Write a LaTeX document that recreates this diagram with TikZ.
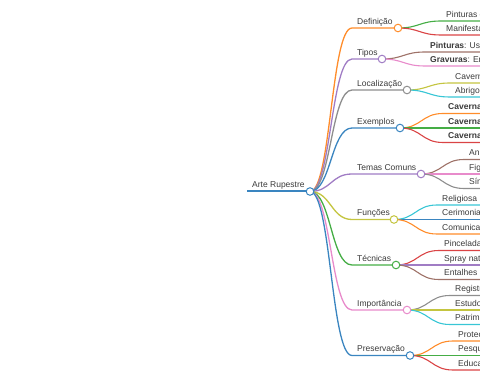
\documentclass[tikz,border=0pt]{standalone}
\usepackage{fontspec}
\setmainfont{Liberation Sans}
\pgfdeclarelayer{bg}
\pgfsetlayers{bg,main}
\definecolor{cBlue}{HTML}{3A85C0}
\definecolor{cOrange}{HTML}{FF8C2A}
\definecolor{cGreen}{HTML}{45AD45}
\definecolor{cRed}{HTML}{DA4445}
\definecolor{cPurple}{HTML}{A07CC4}
\definecolor{cBrown}{HTML}{9E7268}
\definecolor{cPink}{HTML}{E88BCB}
\definecolor{cGray}{HTML}{8E8E8E}
\definecolor{cOlive}{HTML}{C4C540}
\definecolor{cCyan}{HTML}{38C6D5}
\definecolor{txt}{HTML}{3A3A3A}
\tikzset{
  lbl/.style={anchor=base west, inner sep=0pt, font=\fontsize{8.5}{10}\selectfont, text=txt},
  dot/.style={circle, draw=#1, fill=white, line width=1pt, minimum size=7.6pt, inner sep=0pt},
  lnkroot/.style={draw=#1, line width=2pt},
  lnkone/.style={draw=#1, line width=1.3pt},
  lnktwo/.style={draw=#1, line width=1.1pt},
}
% level-1 branch: name, colour, line y, circle x, label
\newcommand\Lone[5]{%
  \coordinate (#1-s) at (352,#3);
  \node[dot=#2] (#1) at (#4,#3) {};
  \node[lbl] (#1-t) at (357,#3-3.6) {#5};
  \begin{pgfonlayer}{bg}
    \draw[lnkone=#2] (root.center) .. controls (331,191.5) and (331,#3) .. (#1-s) -- (#1.center);
  \end{pgfonlayer}}
% level-2 leaf: parent, name, colour, parent x, parent y, line y, label
\newcommand\Ltwo[7]{%
  \coordinate (#2-s) at (#4+43,#6);
  \coordinate (#2-e) at (492,#6);
  \node[lbl] (#2-t) at (#4+48,#6-3.6) {#7};
  \begin{pgfonlayer}{bg}
    \draw[lnktwo=#3] (#1.center) .. controls (#4+21.5,#5) and (#4+21.5,#6) .. (#2-s) -- (#2-e);
  \end{pgfonlayer}}
\begin{document}
\begin{tikzpicture}[x=1pt,y=-1pt]
\useasboundingbox (0,0) rectangle (480,379);
\clip (0,0) rectangle (480,379);
% root
\coordinate (root-s) at (247,191.5);
\node[dot=cBlue] (root) at (310,191.5) {};
\node[lbl] (root-t) at (252,188) {Arte Rupestre};
\begin{pgfonlayer}{bg}
  \draw[lnkroot=cBlue] (root-s) -- (root.center);
\end{pgfonlayer}
% level 1
\Lone{def}{cOrange}{28}{398}{Definição}
\Lone{tip}{cPurple}{59}{382}{Tipos}
\Lone{loc}{cGray}{90}{407}{Localização}
\Lone{exe}{cBlue}{128}{400}{Exemplos}
\Lone{tem}{cPurple}{174}{421}{Temas Comuns}
\Lone{fun}{cOlive}{219.5}{394}{Funções}
\Lone{tec}{cGreen}{265}{396}{Técnicas}
\Lone{imp}{cPink}{310}{407}{Importância}
\Lone{pre}{cBlue}{355.5}{410}{Preservação}
% level 2
\Ltwo{def}{def1}{cGreen}{398}{28}{21}{Pinturas e gravuras pré-históricas}
\Ltwo{def}{def2}{cRed}{398}{28}{35}{Manifestações artísticas antigas}
\Ltwo{tip}{tip1}{cBrown}{382}{59}{52}{\textbf{Pinturas}: Uso de pigmentos}
\Ltwo{tip}{tip2}{cPink}{382}{59}{66}{\textbf{Gravuras}: Entalhes em rochas}
\Ltwo{loc}{loc1}{cOlive}{407}{90}{83}{Cavernas}
\Ltwo{loc}{loc2}{cCyan}{407}{90}{97}{Abrigos rochosos}
\Ltwo{exe}{exe1}{cOrange}{400}{128}{113.5}{\textbf{Caverna de Lascaux}}
\Ltwo{exe}{exe2}{cGreen}{400}{128}{128}{\textbf{Caverna de Altamira}}
\Ltwo{exe}{exe3}{cRed}{400}{128}{142.5}{\textbf{Caverna de Chauvet}}
\Ltwo{tem}{tem1}{cBrown}{421}{174}{159.5}{Animais}
\Ltwo{tem}{tem2}{cPink}{421}{174}{174}{Figuras humanas}
\Ltwo{tem}{tem3}{cGray}{421}{174}{188.5}{Símbolos}
\Ltwo{fun}{fun1}{cCyan}{394}{219.5}{205}{Religiosa}
\Ltwo{fun}{fun2}{cBlue}{394}{219.5}{219.5}{Cerimonial}
\Ltwo{fun}{fun3}{cOrange}{394}{219.5}{234}{Comunicação}
\Ltwo{tec}{tec1}{cRed}{396}{265}{250.5}{Pinceladas}
\Ltwo{tec}{tec2}{cPurple}{396}{265}{265}{Spray natural}
\Ltwo{tec}{tec3}{cBrown}{396}{265}{279.5}{Entalhes}
\Ltwo{imp}{imp1}{cGray}{407}{310}{295.5}{Registro histórico}
\Ltwo{imp}{imp2}{cOlive}{407}{310}{310}{Estudo cultural}
\Ltwo{imp}{imp3}{cCyan}{407}{310}{324.5}{Patrimônio cultural}
\Ltwo{pre}{pre1}{cOrange}{410}{355.5}{341}{Proteção}
\Ltwo{pre}{pre2}{cGreen}{410}{355.5}{355.5}{Pesquisa}
\Ltwo{pre}{pre3}{cRed}{410}{355.5}{370}{Educação}
\end{tikzpicture}
\end{document}
